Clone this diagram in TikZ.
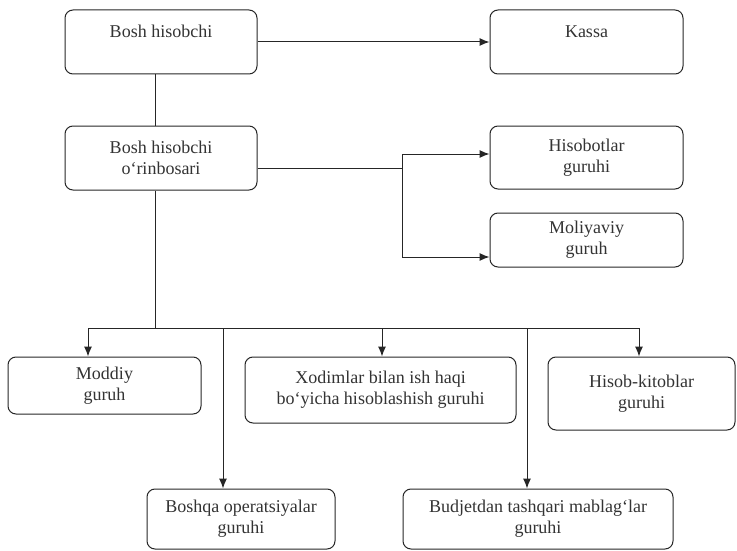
\documentclass[tikz,border=0pt]{standalone}
\usepackage{fontspec}
\setmainfont{Liberation Serif}
\usetikzlibrary{arrows.meta}
\begin{document}
\begin{tikzpicture}[x=1pt,y=-1pt,
  box/.style={draw=black!85, line width=1pt, rounded corners=8pt, inner sep=0pt,
    align=center, text=black!80, font=\fontsize{18}{21}\selectfont},
  link/.style={draw=black!85, line width=1pt},
  arr/.style={link, -{Latex[length=10pt,width=8pt]}}]
\useasboundingbox (0,0) rectangle (737,551);

% top row
\node[box, minimum width=192pt, minimum height=64pt] (b1) at (161,42) {Bosh hisobchi\\\mbox{}};
\node[box, minimum width=193pt, minimum height=64pt] (kassa) at (586.5,42) {Kassa\\\mbox{}};
% deputy and its two groups
\node[box, minimum width=192pt, minimum height=64pt] (b2) at (161,158) {Bosh hisobchi\\o‘rinbosari};
\node[box, minimum width=193pt, minimum height=63pt] (hisobot) at (586.5,157.5) {Hisobotlar\\guruhi};
\node[box, minimum width=193pt, minimum height=54pt] (moliya) at (586.5,240) {Moliyaviy\\guruh};
% lower groups
\node[box, minimum width=193pt, minimum height=57pt] (moddiy) at (104.5,385.5) {Moddiy\\guruh};
\node[box, minimum width=271pt, minimum height=66pt] (xodim) at (380.5,390) {Xodimlar bilan ish haqi\\bo‘yicha hisoblashish guruhi};
\node[box, minimum width=187pt, minimum height=73pt] (hisobk) at (641.5,393.5) {Hisob-kitoblar\\guruhi};
\node[box, minimum width=188pt, minimum height=60pt] (boshqa) at (241,519) {Boshqa operatsiyalar\\guruhi};
\node[box, minimum width=270pt, minimum height=60pt] (budjet) at (538,519) {Budjetdan tashqari mablag‘lar\\guruhi};

% junction points
\coordinate (jr) at (402,168);
\coordinate (jt) at (402,154);
\coordinate (jb) at (402,257);
\coordinate (bus) at (155,328);
\coordinate (pA) at (88,328);
\coordinate (pB) at (223,328);
\coordinate (pC) at (382,328);
\coordinate (pD) at (527,328);
\coordinate (pE) at (639,328);

% connectors
\draw[arr] (b1) -- (kassa);
\draw[link] ([xshift=-6pt]b1.south) -- ([xshift=-6pt]b2.north);
\draw[link] (b2.east |- jr) -- (jr);
\draw[link] (jt) -- (jb);
\draw[arr] (jt) -- (hisobot.west |- jt);
\draw[arr] (jb) -- (moliya.west |- jb);
\draw[link] ([xshift=-6pt]b2.south) -- (bus);
\draw[link] (pA) -- (pE);
\draw[arr] (pA) -- (moddiy.north -| pA);
\draw[arr] (pB) -- (boshqa.north -| pB);
\draw[arr] (pC) -- (xodim.north -| pC);
\draw[arr] (pD) -- (budjet.north -| pD);
\draw[arr] (pE) -- (hisobk.north -| pE);
\end{tikzpicture}
\end{document}
